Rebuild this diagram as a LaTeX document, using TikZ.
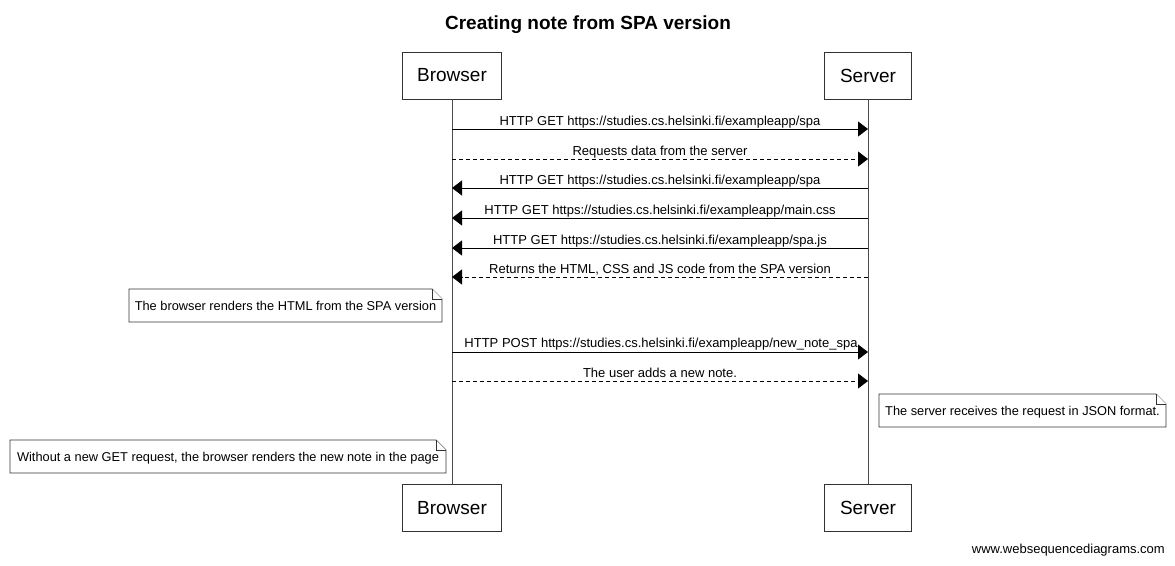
\documentclass[tikz,border=0pt]{standalone}
\usepackage{fontspec}
\setmainfont{Liberation Sans}
\usetikzlibrary{arrows.meta}
\tikzset{
  part/.style={draw=black!80, line width=0.9pt, fill=white, minimum width=#1, minimum height=47pt, inner sep=0pt, font=\fontsize{19}{21}\selectfont},
  part/.default=99pt,
  life/.style={draw=black!70, line width=1pt},
  msg/.style={line width=0.9pt, -{Triangle[length=10pt,width=15pt]}},
  rmsg/.style={msg, dash pattern=on 4pt off 3pt},
  lbl/.style={font=\fontsize{13}{15}\selectfont, inner sep=0pt, anchor=base},
  notebox/.style={draw=black!80, line width=0.8pt, fill=white},
  notetxt/.style={font=\fontsize{12.8}{15}\selectfont, inner sep=0pt, anchor=base},
}
\newcommand{\mynote}[5]{% x1 y1 x2 y2 text
  \draw[notebox] (#1,#2) -- ({#3-10},#2) -- (#3,{#2+10}) -- (#3,#4) -- (#1,#4) -- cycle;
  \draw[notebox] ({#3-10},#2) -- ({#3-10},{#2+10}) -- (#3,{#2+10});
  \node[notetxt] at ({(#1+#3)/2},{#2+21}) {#5};
}
\begin{document}
\begin{tikzpicture}[x=1pt,y=-1pt]
\useasboundingbox (0,0) rectangle (1175,565);
\node[font=\bfseries\fontsize{19}{21}\selectfont, anchor=base] (title) at (588,29) {Creating note from SPA version};

\node[part=99pt] (bt) at (452,75.5) {Browser};
\node[part=87pt] (st) at (868,75.5) {Server};
\node[part=99pt] (bb) at (452,508) {Browser};
\node[part=87pt] (sb) at (868,508) {Server};
\draw[life] (bt.south) -- (bb.north);
\draw[life] (st.south) -- (sb.north);

% messages
\coordinate (b1) at (452,129); \coordinate (s1) at (868,129);
\coordinate (b2) at (452,159); \coordinate (s2) at (868,159);
\coordinate (b3) at (452,188); \coordinate (s3) at (868,188);
\coordinate (b4) at (452,218); \coordinate (s4) at (868,218);
\coordinate (b5) at (452,248); \coordinate (s5) at (868,248);
\coordinate (b6) at (452,277); \coordinate (s6) at (868,277);
\coordinate (b7) at (452,352); \coordinate (s7) at (868,352);
\coordinate (b8) at (452,381); \coordinate (s8) at (868,381);

\draw[msg] (b1) -- (s1);
\node[lbl] (l1) at (660,125) {HTTP GET https://studies.cs.helsinki.fi/exampleapp/spa};
\draw[rmsg] (b2) -- (s2);
\node[lbl] (l2) at (660,155) {Requests data from the server};
\draw[msg] (s3) -- (b3);
\node[lbl] (l3) at (660,184) {HTTP GET https://studies.cs.helsinki.fi/exampleapp/spa};
\draw[msg] (s4) -- (b4);
\node[lbl] (l4) at (660,214) {HTTP GET https://studies.cs.helsinki.fi/exampleapp/main.css};
\draw[msg] (s5) -- (b5);
\node[lbl] (l5) at (660,244) {HTTP GET https://studies.cs.helsinki.fi/exampleapp/spa.js};
\draw[rmsg] (s6) -- (b6);
\node[lbl] (l6) at (660,273) {Returns the HTML, CSS and JS code from the SPA version};

\mynote{129}{289}{442}{322}{The browser renders the HTML from the SPA version}

\draw[msg] (b7) -- (s7);
\node[lbl] (l7) at (661,347) {HTTP POST https://studies.cs.helsinki.fi/exampleapp/new\_note\_spa};
\draw[rmsg] (b8) -- (s8);
\node[lbl] (l8) at (660,377) {The user adds a new note.};

\mynote{879}{394}{1166}{427}{The server receives the request in JSON format.}
\mynote{10}{440}{446}{473}{Without a new GET request, the browser renders the new note in the page}

\node[font=\fontsize{13}{15}\selectfont, anchor=base east, inner sep=0pt] (foot) at (1165,553) {www.websequencediagrams.com};
\end{tikzpicture}
\end{document}
